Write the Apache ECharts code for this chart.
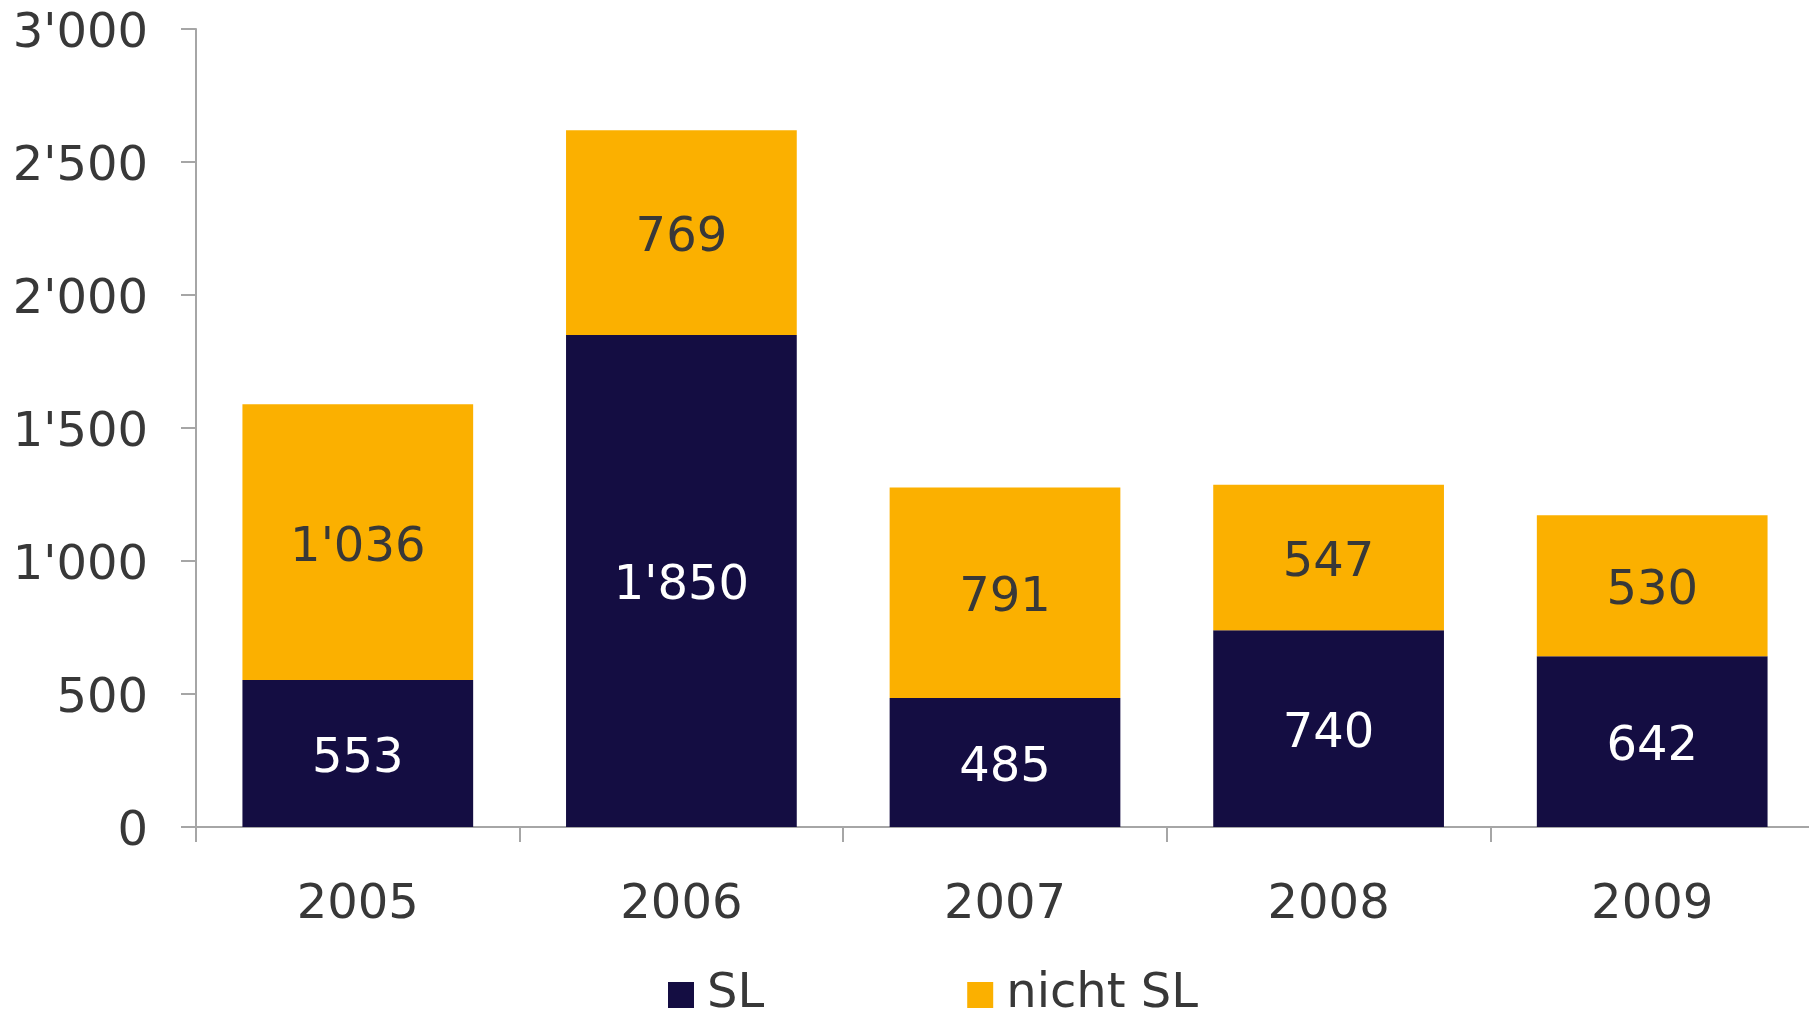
<!DOCTYPE html>
<html>
<head>
<meta charset="utf-8">
<script src="https://cdn.jsdelivr.net/npm/echarts@6/dist/echarts.min.js"></script>
<style>
	html, body { margin: 0; padding: 0; background: #fff; }
	#chart { width: 1809px; height: 1017px; }
</style>
</head>
<body>
<div id="chart"></div>
<script>
	const years = ['2005', '2006', '2007', '2008', '2009']
	const slValues = [553, 1850, 485, 740, 642]
	const nichtSlValues = [1036, 769, 791, 547, 530]
	const yTicks = [0, 500, 1000, 1500, 2000, 2500, 3000]

	// Tausendertrennzeichen mit Apostroph
	const fmt = v => String(v).replace(/\B(?=(\d{3})+(?!\d))/g, "'")

	const font = 'DejaVu Sans'
	const fs = 48
	const textColor = '#383838'
	const axisColor = '#a6a6a6'

	const chart = echarts.init(document.getElementById('chart'))
	const option = {
		animation: false,
		textStyle: { fontFamily: font },
		grid: { left: 196, top: 29, width: 1618, height: 798, outerBoundsMode: 'none' },
		legend: {
			left: 663,
			top: 966,
			itemWidth: 26,
			itemHeight: 26,
			itemGap: 203,
			icon: 'rect',
			textStyle: { fontFamily: font, fontSize: fs, color: textColor, padding: [0, 0, 0, 8] },
			data: ['SL', 'nicht SL']
		},
		xAxis: {
			type: 'category',
			data: years,
			axisLine: { lineStyle: { color: axisColor, width: 2 } },
			axisTick: { show: true, length: 15, alignWithLabel: false, lineStyle: { color: axisColor, width: 2 } },
			axisLabel: { fontFamily: font, fontSize: fs, color: textColor, margin: 55 }
		},
		yAxis: {
			type: 'value',
			min: yTicks[0],
			max: yTicks[yTicks.length - 1],
			interval: 500,
			splitLine: { show: false },
			axisLine: { show: true, lineStyle: { color: axisColor, width: 2 } },
			axisTick: { show: true, length: 15, lineStyle: { color: axisColor, width: 2 } },
			axisLabel: {
				fontFamily: font, fontSize: fs, color: textColor, margin: 48,
				formatter: v => '{v|' + fmt(v) + '}',
				rich: { v: { fontFamily: font, fontSize: fs, color: textColor, padding: [12, 0, 0, 0] } }
			}
		},
		series: [{
			name: 'SL',
			type: 'bar',
			stack: 'total',
			barWidth: '71.3%',
			data: slValues,
			itemStyle: { color: '#140d42' },
			label: { show: true, position: 'inside', offset: [0, 6], color: '#ffffff', fontFamily: font, fontSize: fs, formatter: p => fmt(p.value) }
		}, {
			name: 'nicht SL',
			type: 'bar',
			stack: 'total',
			barWidth: '71.3%',
			data: nichtSlValues,
			itemStyle: { color: '#fbb000' },
			label: { show: true, position: 'inside', offset: [0, 6], color: textColor, fontFamily: font, fontSize: fs, formatter: p => fmt(p.value) }
		}]
	}
	chart.setOption(option)
</script>
</body>
</html>
